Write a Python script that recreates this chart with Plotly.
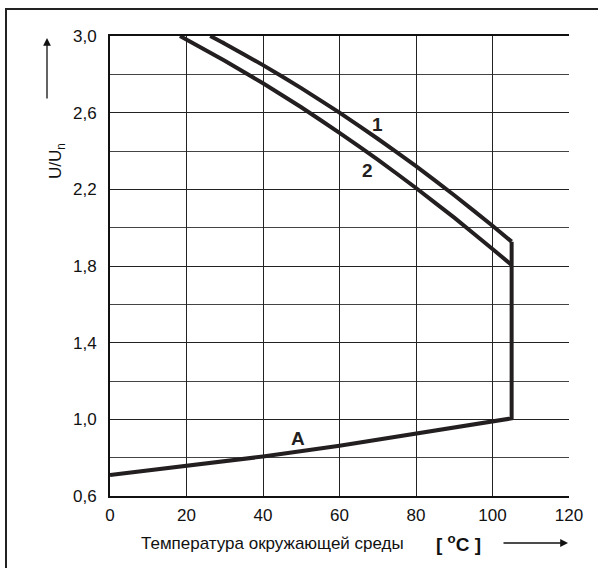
import plotly.graph_objects as go

# Data
curve1_x = [26.2, 30, 40, 50, 60, 70, 80, 90, 100, 105]
curve1_y = [3.0, 2.960, 2.848, 2.728, 2.60, 2.464, 2.321, 2.169, 2.010, 1.927]
curve2_x = [18.3, 30, 40, 50, 60, 70, 80, 90, 100, 105]
curve2_y = [3.0, 2.871, 2.753, 2.628, 2.495, 2.355, 2.207, 2.052, 1.889, 1.805]
curveA_x = [0, 20, 40, 60, 80, 100, 105]
curveA_y = [0.71, 0.757, 0.806, 0.862, 0.926, 0.99, 1.005]
limit_x = [105, 105]
limit_y = [1.005, 1.927]

x_ticks = [0, 20, 40, 60, 80, 100, 120]
y_ticks = [0.6, 1.0, 1.4, 1.8, 2.2, 2.6, 3.0]
y_ticktext = ["0,6", "1,0", "1,4", "1,8", "2,2", "2,6", "3,0"]

curve_labels = ["1", "2", "A"]
label_x = [70, 67.3, 49.2]
label_y = [2.536, 2.30, 0.90]

LINE = "#231f20"
FONT = "Liberation Sans, Arial, sans-serif"

fig = go.Figure()
fig.add_trace(go.Scatter(x=curve1_x, y=curve1_y, mode="lines",
                         line=dict(color=LINE, width=4, shape="spline", smoothing=0.4)))
fig.add_trace(go.Scatter(x=curve2_x, y=curve2_y, mode="lines",
                         line=dict(color=LINE, width=4, shape="spline", smoothing=0.4)))
fig.add_trace(go.Scatter(x=curveA_x + limit_x[1:], y=curveA_y + limit_y[1:], mode="lines",
                         line=dict(color=LINE, width=4)))

for t, lx, ly in zip(curve_labels, label_x, label_y):
    fig.add_annotation(x=lx, y=ly, text="<b>%s</b>" % t, showarrow=False,
                       font=dict(family=FONT, size=19, color=LINE))

def px_x(p):
    return (p - 110) / 459.0

def px_y(p):
    return (496 - p) / 460.0

# y-axis title and arrow
fig.add_annotation(xref="paper", yref="paper", x=px_x(44), y=px_y(141),
                   text="U/U<sub>n</sub>", textangle=-90, showarrow=False,
                   font=dict(family=FONT, size=17, color="#111"))
fig.add_annotation(xref="paper", yref="paper", x=px_x(47), y=px_y(38),
                   ax=0, ay=62, text="", showarrow=True, arrowhead=2,
                   arrowsize=1.2, arrowwidth=1.3, arrowcolor="#111")
# x-axis title and arrow
fig.add_annotation(xref="paper", yref="paper", x=px_x(139), y=px_y(543),
                   xanchor="left", yanchor="middle",
                   text="Температура окружающей среды", showarrow=False,
                   font=dict(family=FONT, size=17, color="#111"))
fig.add_annotation(xref="paper", yref="paper", x=px_x(434), y=px_y(543),
                   xanchor="left", yanchor="middle",
                   text="<b>[ <sup>o</sup>C ]</b>", showarrow=False,
                   font=dict(family=FONT, size=19, color="#111"))
fig.add_annotation(xref="paper", yref="paper", x=px_x(568), y=px_y(543),
                   ax=-66, ay=0, text="", showarrow=True, arrowhead=2,
                   arrowsize=1.2, arrowwidth=1.3, arrowcolor="#111")

# outer frame
fig.add_shape(type="rect", xref="paper", yref="paper",
              x0=px_x(6), x1=px_x(606), y0=px_y(580), y1=px_y(9),
              line=dict(color="#222", width=2), layer="below")

fig.update_layout(
    width=598, height=568,
    margin=dict(l=110, r=29, t=36, b=72),
    paper_bgcolor="white", plot_bgcolor="white",
    showlegend=False,
    font=dict(family=FONT, size=17, color="#111"),
    xaxis=dict(range=[0, 120], tickvals=x_ticks, showgrid=True, gridcolor="#222",
               gridwidth=1, showline=True, linecolor="#111", linewidth=2, mirror=True,
               zeroline=False, ticks="", ticklabelstandoff=3, fixedrange=True),
    yaxis=dict(range=[0.6, 3.0], tickvals=y_ticks, ticktext=y_ticktext, showgrid=True,
               gridcolor="#222", gridwidth=1, showline=True, linecolor="#111", linewidth=2,
               zeroline=False, ticks="", ticklabelstandoff=8, fixedrange=True,
               minor=dict(dtick=0.2, showgrid=True, gridcolor="#444", gridwidth=1)),
)

fig.write_html("out.html", config={"displayModeBar": False},
               post_script="document.body.style.margin='0';document.body.style.overflow='hidden';")
